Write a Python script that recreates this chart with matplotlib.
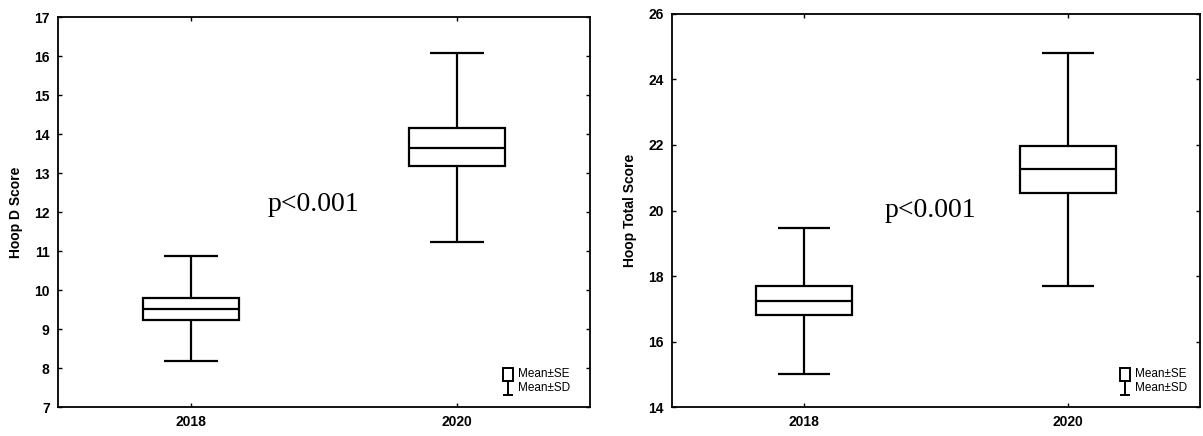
import matplotlib
matplotlib.use("Agg")
import matplotlib.pyplot as plt
from matplotlib.patches import Rectangle
from matplotlib.lines import Line2D

years = ["2018", "2020"]

# Panel 1: Hoop D Score
d_mean = [9.52, 13.65]
d_se_low = [9.23, 13.18]
d_se_high = [9.80, 14.15]
d_sd_low = [8.17, 11.22]
d_sd_high = [10.87, 16.07]
d_ticks = [7, 8, 9, 10, 11, 12, 13, 14, 15, 16, 17]

# Panel 2: Hoop Total Score
t_mean = [17.25, 21.27]
t_se_low = [16.80, 20.52]
t_se_high = [17.70, 21.97]
t_sd_low = [15.00, 17.70]
t_sd_high = [19.47, 24.80]
t_ticks = [14, 16, 18, 20, 22, 24, 26]

fig = plt.figure(figsize=(12.03, 4.36), dpi=100)
ax1 = fig.add_axes([0.0482, 0.0665, 0.4422, 0.8945])
ax2 = fig.add_axes([0.5586, 0.0665, 0.4389, 0.9014])

def draw(ax, mean, sel, seh, sdl, sdh, ticks, ylabel, ptxt, lx):
    pos = [1, 2]
    bw = 0.36
    cw = 0.20
    for p, m, a, b, c, d in zip(pos, mean, sel, seh, sdl, sdh):
        ax.vlines(p, c, a, color="black", lw=1.6, zorder=2)
        ax.vlines(p, b, d, color="black", lw=1.6, zorder=2)
        ax.hlines([c, d], p - cw / 2, p + cw / 2, color="black", lw=1.6, zorder=2)
    ax.bar(pos, [h - l for h, l in zip(seh, sel)], bottom=sel, width=bw,
           facecolor="white", edgecolor="black", linewidth=1.6, zorder=3)
    ax.hlines(mean, [p - bw / 2 for p in pos], [p + bw / 2 for p in pos],
              color="black", lw=1.6, zorder=4)
    ax.set_xlim(0.5, 2.5)
    ax.set_ylim(ticks[0], ticks[-1])
    ax.set_yticks(ticks)
    ax.set_xticks(pos)
    ax.set_xticklabels(years)
    ax.tick_params(direction="in", length=3, width=1, labelsize=10,
                   top=True, right=True, pad=6)
    for lab in ax.get_xticklabels() + ax.get_yticklabels():
        lab.set_fontweight("bold")
        lab.set_fontfamily("Liberation Sans")
    for s in ax.spines.values():
        s.set_linewidth(1.3)
    ax.set_ylabel(ylabel, fontsize=10, fontweight="bold", family="Liberation Sans",
                  labelpad=8)
    ax.text(ptxt[0], ptxt[1], "p<0.001", fontsize=20, family="Liberation Serif",
            ha="center", va="center")
    # legend
    tr = ax.transAxes
    w = 0.019
    ax.add_patch(Rectangle((lx, 0.067), w, 0.033, transform=tr,
                           facecolor="white", edgecolor="black", lw=1.4, zorder=5))
    cx = lx + w / 2
    ax.add_line(Line2D([cx, cx], [0.031, 0.067], transform=tr, color="black", lw=1.4))
    ax.add_line(Line2D([lx + 0.002, lx + w - 0.002], [0.031, 0.031], transform=tr,
                       color="black", lw=1.4))
    ax.text(lx + w + 0.009, 0.085, "Mean±SE", transform=tr, fontsize=8.5, va="center",
            family="Liberation Sans")
    ax.text(lx + w + 0.009, 0.049, "Mean±SD", transform=tr, fontsize=8.5, va="center",
            family="Liberation Sans")

draw(ax1, d_mean, d_se_low, d_se_high, d_sd_low, d_sd_high, d_ticks,
     "Hoop D Score", (1.46, 12.18), 0.836)
draw(ax2, t_mean, t_se_low, t_se_high, t_sd_low, t_sd_high, t_ticks,
     "Hoop Total Score", (1.48, 20.0), 0.848)

fig.savefig("out.png", dpi=100)
